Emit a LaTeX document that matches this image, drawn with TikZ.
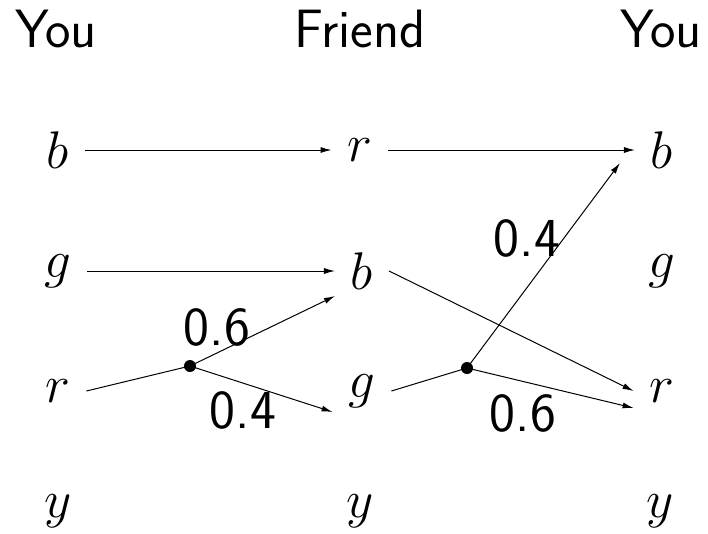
\RequirePackage{fix-cm}
\documentclass[tikz,border=0pt]{standalone}
\usetikzlibrary{arrows.meta}
\begin{document}
\begin{tikzpicture}[x=1pt,y=-1pt,
  letter/.style={inner sep=0pt, outer sep=16pt, font=\fontsize{53}{60}\selectfont},
  head/.style={anchor=base, inner sep=0pt, font=\sffamily\fontsize{54}{60}\selectfont},
  prob/.style={inner sep=0pt, font=\sffamily\fontsize{55}{60}\selectfont},
  dot/.style={circle, fill, inner sep=0pt, minimum size=12pt},
  arr/.style={-{Latex[length=11pt,width=6pt]}, line width=1pt},
  seg/.style={line width=1pt}]
\useasboundingbox (0,0) rectangle (708,533);
% headers
\node[head] (h1) at (56,47) {You};
\node[head] (h2) at (360,47) {Friend};
\node[head] (h3) at (661,47) {You};
% left column
\node[letter] (L1) at (58,150) {$b$};
\node[letter] (L2) at (58,271) {$g$};
\node[letter] (L3) at (58,391) {$r$};
\node[letter] (L4) at (58,511) {$y$};
% middle column
\node[letter] (M1) at (360,150) {$r$};
\node[letter] (M2) at (362,271) {$b$};
\node[letter] (M3) at (362,391) {$g$};
\node[letter] (M4) at (360,511) {$y$};
% right column
\node[letter] (R1) at (662,150) {$b$};
\node[letter] (R2) at (662,271) {$g$};
\node[letter] (R3) at (662,391) {$r$};
\node[letter] (R4) at (660,511) {$y$};
% branch points
\node[dot] (d1) at (190,366) {};
\node[dot] (d2) at (467,368) {};
% connectors
\draw[arr] (L1.east) -- (M1.west);
\draw[arr] (L2.east) -- (M2.west);
\draw[seg] (L3.east) -- (d1.center);
\draw[arr] (d1.center) -- ([yshift=-25pt]M2.west);
\draw[arr] (d1.center) -- ([yshift=-21pt]M3.west);
\draw[arr] (M1.east) -- (R1.west);
\draw[arr] (M2.east) -- (R3.west);
\draw[seg] (M3.east) -- (d2.center);
\draw[arr] (d2.center) -- ([xshift=-15pt,yshift=-13pt]R1.west);
\draw[arr] (d2.center) -- ([yshift=-17pt]R3.west);
% probabilities
\node[prob] (p1) at (217,327) {0.6};
\node[prob] (p2) at (243,410) {0.4};
\node[prob] (p3) at (527,238) {0.4};
\node[prob] (p4) at (523,413) {0.6};
\end{tikzpicture}
\end{document}
